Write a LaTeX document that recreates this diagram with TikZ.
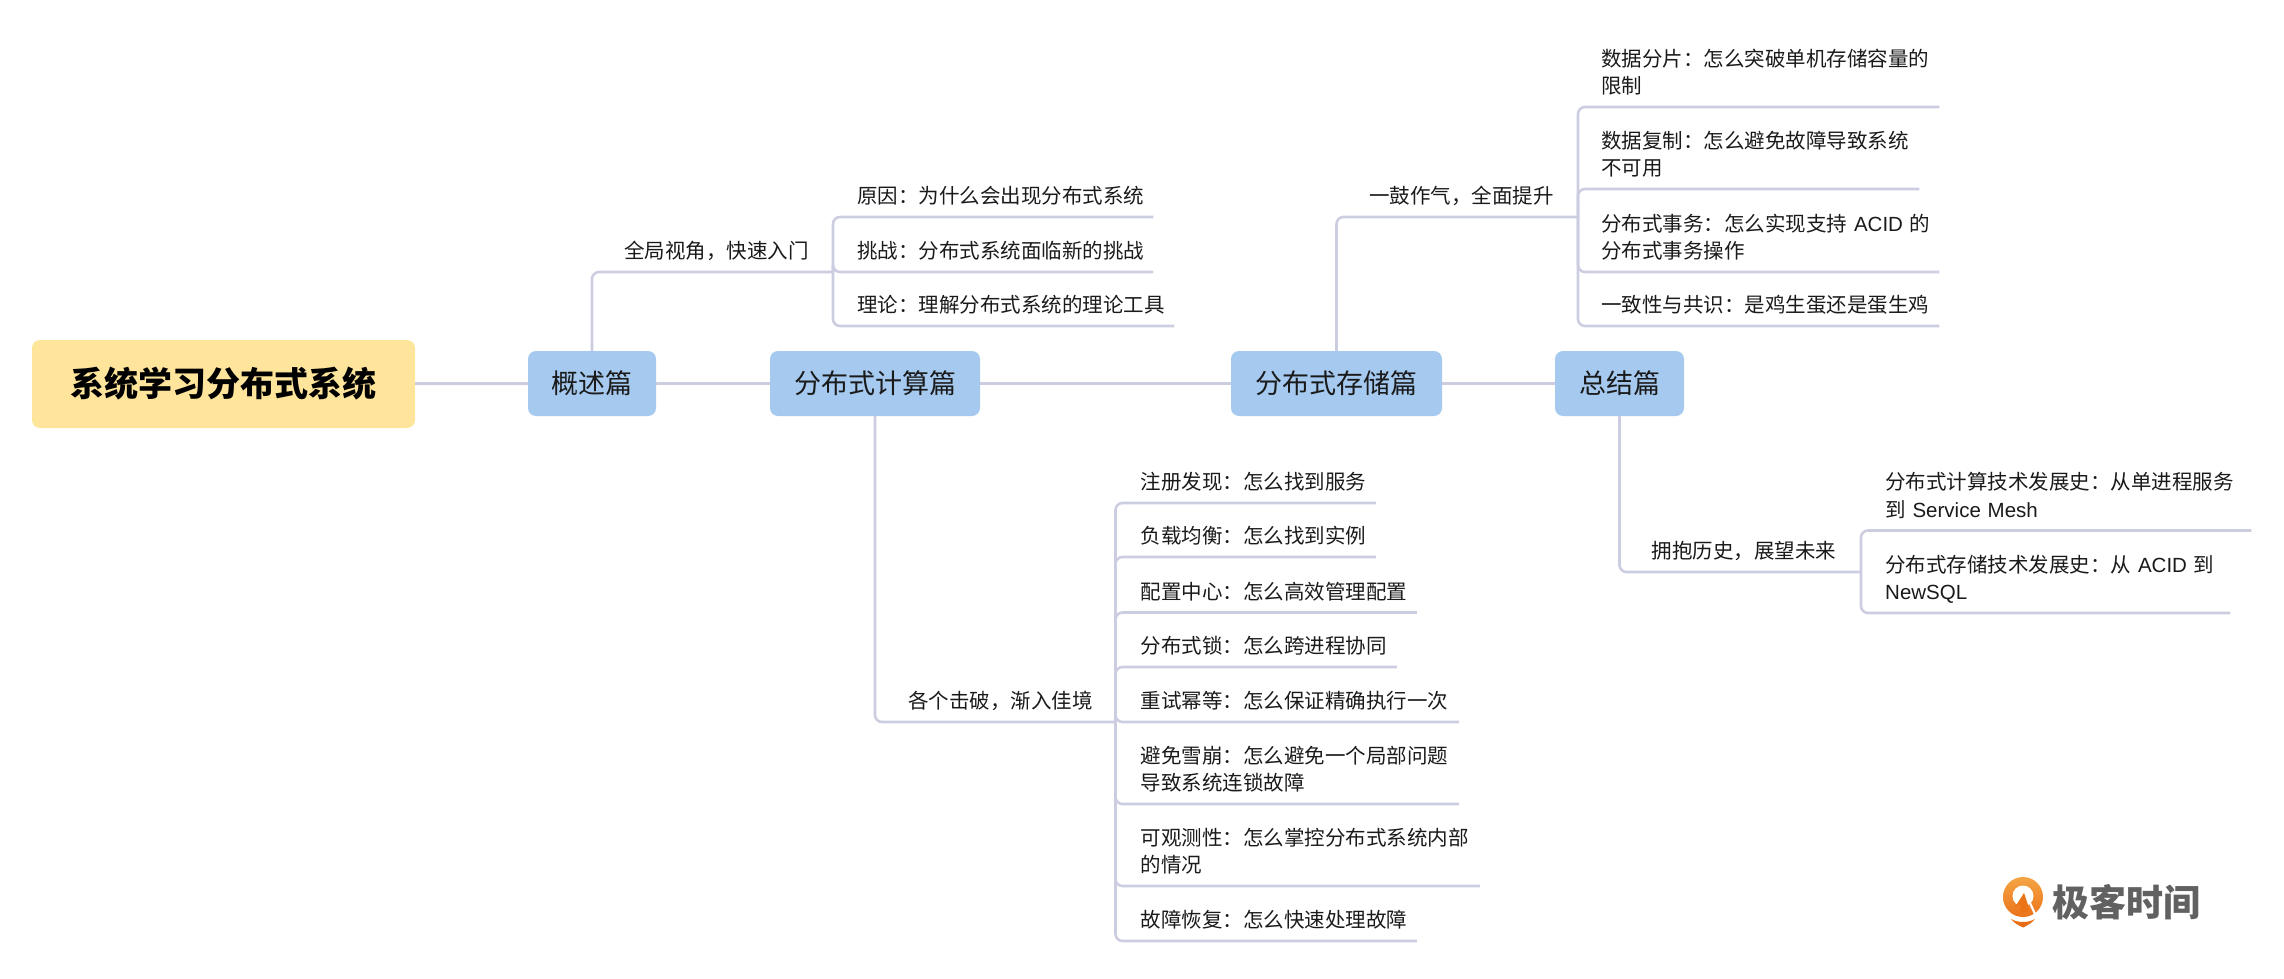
\documentclass[tikz,border=0pt]{standalone}
\usepackage{fontspec}
\setmainfont{Noto Sans CJK SC}
\newfontfamily\latinpart{Liberation Sans}
\definecolor{linkc}{HTML}{CDCDE2}
\definecolor{topicc}{HTML}{A5C9EF}
\definecolor{rootc}{HTML}{FEE59B}
\definecolor{inkc}{HTML}{1A1A1A}
\definecolor{marktop}{HTML}{F5A544}
\definecolor{markmid}{HTML}{EC7418}
\definecolor{markbot}{HTML}{E8650F}
\tikzset{
  every node/.style={text=inkc},
  rootbox/.style={draw=none,fill=rootc,rounded corners=8pt,inner sep=0pt,
    minimum width=383pt,minimum height=88pt,
    font=\fontsize{34}{40}\selectfont\bfseries,text=black},
  topic/.style={draw=none,fill=topicc,rounded corners=8pt,inner sep=0pt,
    minimum height=65pt,font=\fontsize{27}{30}\selectfont},
  leaf/.style n args={1}{anchor=south west,inner xsep=0pt,inner ysep=4.6pt,
    text width=#1,align=left,font=\fontsize{20.5}{27.5}\selectfont,
    execute at begin node=\strut,execute at end node=\strut},
  spine/.style={draw=linkc,line width=3pt},
  twig/.style={draw=linkc,line width=2.6pt,rounded corners=7pt},
  markfill/.style={top color=marktop,bottom color=markbot}
}
\begin{document}
\begin{tikzpicture}[x=1pt,y=-1pt]
\useasboundingbox (0,0) rectangle (2284,979);

% root and the chapter boxes
\node[rootbox] (root) at (223.5,384) {系统学习分布式系统};
\node[topic,minimum width=128pt] (overview) at (592,383.5) {概述篇};
\node[topic,minimum width=210pt] (compute) at (875,383.5) {分布式计算篇};
\node[topic,minimum width=211pt] (storage) at (1336.5,383.5) {分布式存储篇};
\node[topic,minimum width=129pt] (summary) at (1619.5,383.5) {总结篇};

% overview branch
\node[leaf=186pt] (ovlabel) at (624,272) {全局视角，快速入门};
\node[leaf=296pt] (ov1) at (857,217) {原因：为什么会出现分布式系统};
\node[leaf=296pt] (ov2) at (857,272) {挑战：分布式系统面临新的挑战};
\node[leaf=317pt] (ov3) at (857,326) {理论：理解分布式系统的理论工具};
\coordinate (ovfork) at (833,272);

% compute branch
\node[leaf=184pt] (colabel) at (908,722) {各个击破，渐入佳境};
\node[leaf=235pt] (co1) at (1140.5,503) {注册发现：怎么找到服务};
\node[leaf=235pt] (co2) at (1140.5,557) {负载均衡：怎么找到实例};
\node[leaf=276pt] (co3) at (1140.5,612.5) {配置中心：怎么高效管理配置};
\node[leaf=256pt] (co4) at (1140.5,667) {分布式锁：怎么跨进程协同};
\node[leaf=318pt] (co5) at (1140.5,722) {重试幂等：怎么保证精确执行一次};
\node[leaf=318pt] (co6) at (1140.5,804) {避免雪崩：怎么避免一个局部问题\\导致系统连锁故障};
\node[leaf=339pt] (co7) at (1140.5,886) {可观测性：怎么掌控分布式系统内部\\的情况};
\node[leaf=276pt] (co8) at (1140.5,941) {故障恢复：怎么快速处理故障};
\coordinate (cofork) at (1115.5,722);

% storage branch
\node[leaf=182pt] (stlabel) at (1369,217) {一鼓作气，全面提升};
\node[leaf=338pt] (st1) at (1601,107) {数据分片：怎么突破单机存储容量的\\限制};
\node[leaf=318pt] (st2) at (1601,189) {数据复制：怎么避免故障导致系统\\不可用};
\node[leaf=338pt] (st3) at (1601,272) {分布式事务：怎么实现支持 {\latinpart ACID} 的\\分布式事务操作};
\node[leaf=338pt] (st4) at (1601,326) {一致性与共识：是鸡生蛋还是蛋生鸡};
\coordinate (stfork) at (1578,217);

% summary branch
\node[leaf=185pt] (sulabel) at (1651.5,572) {拥抱历史，展望未来};
\node[leaf=366pt] (su1) at (1885,530.5) {分布式计算技术发展史：从单进程服务\\到 {\latinpart Service Mesh}};
\node[leaf=345pt] (su2) at (1885,613) {分布式存储技术发展史：从 {\latinpart ACID} 到\\{\latinpart NewSQL}};
\coordinate (sufork) at (1861,572);

% main line
\draw[spine] (root) -- (overview);
\draw[spine] (overview) -- (compute);
\draw[spine] (compute) -- (storage);
\draw[spine] (storage) -- (summary);

% branches leaving the chapter boxes
\draw[twig] (overview.north) |- (ovfork);
\draw[twig] (compute.south) |- (cofork);
\draw[twig] (storage.north) |- (stfork);
\draw[twig] (summary.south) |- (sufork);

% twigs running under each entry
\foreach \f/\n in {ovfork/ov1,ovfork/ov2,ovfork/ov3,
    cofork/co1,cofork/co2,cofork/co3,cofork/co4,cofork/co5,cofork/co6,cofork/co7,cofork/co8,
    stfork/st1,stfork/st2,stfork/st3,stfork/st4,
    sufork/su1,sufork/su2}
  \draw[twig] (\f) |- (\n.south east);

% brand mark: disc with a hole and a rising arrow, and a crescent underneath
\path[markfill]
  (2023,897) circle[radius=20pt]
  (2011,919) .. controls (2018,923) and (2028,923) .. (2035,919)
  .. controls (2032,923) and (2028,925) .. (2023,927.5)
  .. controls (2018,925) and (2014,923) .. (2011,919) -- cycle;
\fill[white] (2023,896) circle[radius=10.5pt];
\fill[markmid] (2024,893) -- (2015,907) -- (2020,905.5) -- (2020,912)
  -- (2028,912) -- (2028,905) -- cycle;
\draw[white,line width=2.2pt] (2030,903) -- (2035,914);
\node[inner sep=0pt,text=black!62,font=\fontsize{37}{40}\selectfont\bfseries] (brand) at (2126,902.5) {极客时间};
\end{tikzpicture}
\end{document}
